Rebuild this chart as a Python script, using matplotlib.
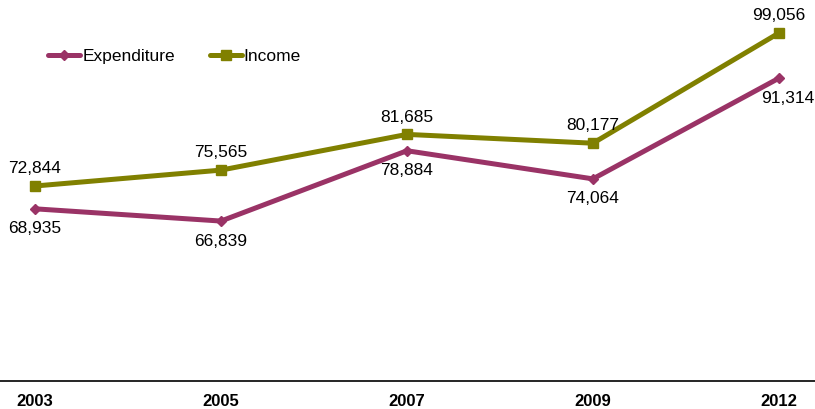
import matplotlib
matplotlib.use("Agg")
import matplotlib.pyplot as plt

years = ["2003", "2005", "2007", "2009", "2012"]
expenditure = [68935, 66839, 78884, 74064, 91314]
income = [72844, 75565, 81685, 80177, 99056]

plt.rcParams['font.family'] = ['Liberation Sans', 'DejaVu Sans']

fig = plt.figure(figsize=(8.15, 4.09), dpi=100)
ax = fig.add_axes([0, (409 - 381) / 409, 1, 381 / 409])

exp_color = "#9A3366"
inc_color = "#808000"
x = list(range(len(years)))

ax.plot(x, expenditure, color=exp_color, lw=3.6, marker="D", ms=5.5,
        label="Expenditure", solid_capstyle="round")
ax.plot(x, income, color=inc_color, lw=3.6, marker="s", ms=6.5,
        label="Income", solid_capstyle="round")

fs = 12.5
fmt = lambda v: f"{v:,}"
for i, v in enumerate(income):
    ax.annotate(fmt(v), (i, v), xytext=(0, 12.5), textcoords="offset points",
                ha="center", va="center", fontsize=fs)
for i, v in enumerate(expenditure):
    if i == len(expenditure) - 1:
        ax.annotate(fmt(v), (i, v), xytext=(6.5, -14.4), textcoords="offset points",
                    ha="center", va="center", fontsize=fs)
    else:
        ax.annotate(fmt(v), (i, v), xytext=(0, -14.4), textcoords="offset points",
                    ha="center", va="center", fontsize=fs)

ax.set_xlim(-0.188, 4.194)
ax.set_ylim(39436, 104710)
ax.set_xticks(x)
ax.set_xticklabels(years, fontsize=12, fontweight="bold")
ax.tick_params(axis="x", length=0, pad=9)
ax.set_yticks([])
for s in ["left", "right", "top"]:
    ax.spines[s].set_visible(False)
ax.spines["bottom"].set_linewidth(1.2)

leg = ax.legend(loc="center left", bbox_to_anchor=(48 / 815, (381 - 56) / 381), ncol=2,
                frameon=False, fontsize=fs, handlelength=1.85, handletextpad=0.12,
                columnspacing=2.0, borderaxespad=0, borderpad=0)
fig.savefig("out.png", dpi=100)
